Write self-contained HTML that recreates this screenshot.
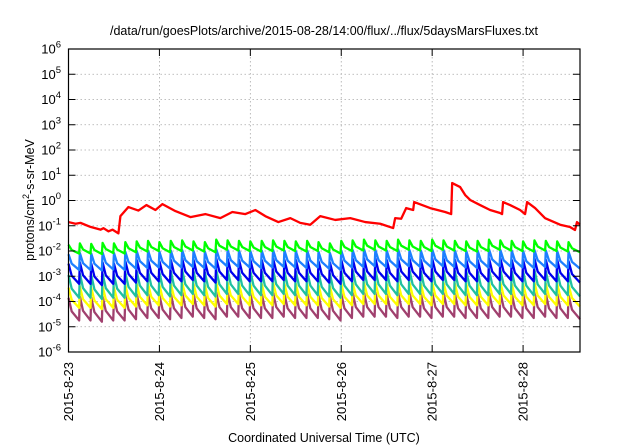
<!DOCTYPE html>
<html><head><meta charset="utf-8"><style>
body{margin:0;background:#fff}
svg{display:block;font-family:"Liberation Sans",sans-serif}
</style></head><body>
<svg id="c" width="640" height="448" viewBox="0 0 640 448">
<text x="324" y="35" font-size="12.5" text-anchor="middle">/data/run/goesPlots/archive/2015-08-28/14:00/flux/../flux/5daysMarsFluxes.txt</text>
<text x="324" y="442" font-size="12.5" text-anchor="middle">Coordinated Universal Time (UTC)</text>
<text transform="translate(34,200) rotate(-90)" font-size="12.5" text-anchor="middle">protons/cm<tspan dy="-5" font-size="9">2</tspan><tspan dy="5">-s-sr-MeV</tspan></text>
<g id="grid"></g><g id="series"></g><g id="axes"></g>
</svg>
<script>
const yTickExps=[-6,-5,-4,-3,-2,-1,0,1,2,3,4,5,6];
const xTickLabels=["2015-8-23","2015-8-24","2015-8-25","2015-8-26","2015-8-27","2015-8-28"];
const xTickDays=[0,1,2,3,4,5];
const redDays=[0,0.077,0.132,0.242,0.352,0.385,0.44,0.484,0.549,0.571,0.659,0.769,0.857,0.956,1.033,1.176,1.341,1.505,1.67,1.802,1.945,2.055,2.165,2.308,2.44,2.549,2.659,2.769,2.934,3.099,3.264,3.429,3.571,3.593,3.659,3.714,3.791,3.802,3.978,4.143,4.209,4.22,4.308,4.363,4.418,4.527,4.637,4.747,4.769,4.78,4.857,4.967,5.022,5.044,5.132,5.242,5.407,5.516,5.571,5.593,5.626];
const redFlux=[0.14,0.12,0.13,0.09,0.07,0.08,0.06,0.07,0.05,0.24,0.55,0.4,0.66,0.42,0.72,0.38,0.22,0.29,0.2,0.35,0.29,0.42,0.24,0.14,0.2,0.13,0.11,0.24,0.17,0.2,0.14,0.12,0.081,0.2,0.19,0.5,0.42,0.87,0.5,0.35,0.29,4.9,3.4,1.65,1.05,0.66,0.42,0.32,0.29,0.87,0.66,0.42,0.29,0.87,0.5,0.2,0.11,0.089,0.068,0.14,0.11];
const cycleDays=[0,0.125,0.25,0.375,0.5,0.625,0.75,0.875,1,1.125,1.25,1.375,1.5,1.625,1.75,1.875,2,2.125,2.25,2.375,2.5,2.625,2.75,2.875,3,3.125,3.25,3.375,3.5,3.625,3.75,3.875,4,4.125,4.25,4.375,4.5,4.625,4.75,4.875,5,5.125,5.25,5.375,5.5];
const greenPeak=[-1.75,-1.7,-1.72,-1.68,-1.7,-1.65,-1.62,-1.6,-1.65,-1.6,-1.58,-1.62,-1.65,-1.55,-1.58,-1.6,-1.62,-1.6,-1.58,-1.6,-1.62,-1.6,-1.65,-1.7,-1.6,-1.58,-1.55,-1.58,-1.6,-1.55,-1.58,-1.6,-1.55,-1.58,-1.6,-1.62,-1.6,-1.55,-1.58,-1.6,-1.62,-1.58,-1.6,-1.62,-1.65];
const greenTrough=[-2.1,-2.1,-2.12,-2.08,-2.1,-2.05,-2.02,-2.0,-2.05,-2.0,-1.98,-2.02,-2.05,-1.95,-1.98,-2.0,-2.02,-2.0,-1.98,-2.0,-2.02,-2.0,-2.05,-2.1,-2.0,-1.98,-1.95,-1.98,-2.0,-1.95,-1.98,-2.0,-1.95,-1.98,-2.0,-2.02,-2.0,-1.95,-1.98,-2.0,-2.02,-1.98,-2.0,-2.02,-2.05];
const lblueOffP=-0.38, lblueOffT=-0.65;
const bluePeak=[-2.5,-2.45,-2.5,-2.45,-2.5,-2.4,-2.35,-2.35,-2.4,-2.35,-2.3,-2.35,-2.4,-2.3,-2.3,-2.35,-2.35,-2.35,-2.3,-2.35,-2.35,-2.35,-2.4,-2.45,-2.35,-2.3,-2.3,-2.3,-2.35,-2.3,-2.3,-2.35,-2.3,-2.3,-2.35,-2.35,-2.35,-2.3,-2.3,-2.35,-2.35,-2.3,-2.35,-2.35,-2.4];
const blueTrough=[-3.3,-3.3,-3.35,-3.3,-3.3,-3.25,-3.2,-3.2,-3.25,-3.2,-3.15,-3.2,-3.25,-3.15,-3.15,-3.2,-3.2,-3.2,-3.15,-3.2,-3.2,-3.2,-3.25,-3.3,-3.2,-3.15,-3.15,-3.15,-3.2,-3.15,-3.15,-3.2,-3.15,-3.15,-3.2,-3.2,-3.2,-3.15,-3.15,-3.2,-3.2,-3.15,-3.2,-3.2,-3.25];
const tealOffP=-0.45, tealOffT=-0.55, yellowOffP=-0.95, yellowOffT=-0.95, purpleOffP=-1.35, purpleOffT=-1.45;
const X0=68.5,X1=580,Y0=352,Y1=49,DAYMAX=5.626;
const xs=d=>X0+d*(X1-X0)/DAYMAX;
const ys=e=>Y0-(e+6)*(Y0-Y1)/12;
const NS="http://www.w3.org/2000/svg";
function mk(tag,parent){const el=document.createElementNS(NS,tag);document.getElementById(parent).appendChild(el);return el;}
yTickExps.forEach(e=>{
  const y=ys(e);
  if(e>-6&&e<6){const g=mk('line','grid');g.setAttribute('x1',X0);g.setAttribute('x2',X1);g.setAttribute('y1',y);g.setAttribute('y2',y);g.setAttribute('stroke','#aaa');g.setAttribute('stroke-width','0.8');g.setAttribute('stroke-dasharray','1.5,2.5');
  
  }
  [[X0,X0+7],[X1,X1-7]].forEach(p=>{const t=mk('line','axes');t.setAttribute('x1',p[0]);t.setAttribute('x2',p[1]);t.setAttribute('y1',y);t.setAttribute('y2',y);t.setAttribute('stroke','#000');
  
  });
  const tx=mk('text','axes');tx.setAttribute('x',61);tx.setAttribute('y',y+4.5);tx.setAttribute('text-anchor','end');tx.setAttribute('font-size','13');
  tx.innerHTML='10<tspan dy="-6" font-size="9.5">'+e+'</tspan>';
  
  
});
xTickDays.forEach((d,i)=>{
  const x=xs(d);
  if(d>0){const g=mk('line','grid');g.setAttribute('x1',x);g.setAttribute('x2',x);g.setAttribute('y1',Y1);g.setAttribute('y2',Y0);g.setAttribute('stroke','#aaa');g.setAttribute('stroke-width','0.8');g.setAttribute('stroke-dasharray','1.5,2.5');
  
  }
  [[Y0,Y0-7],[Y1,Y1+7]].forEach(p=>{const t=mk('line','axes');t.setAttribute('x1',x);t.setAttribute('x2',x);t.setAttribute('y1',p[0]);t.setAttribute('y2',p[1]);t.setAttribute('stroke','#000');
  
  });
  const tx=mk('text','axes');tx.setAttribute('transform','translate('+(x+4.5)+',362) rotate(-90)');tx.setAttribute('text-anchor','end');tx.setAttribute('font-size','13');tx.textContent=xTickLabels[i];
  
  
});
const fr=mk('rect','axes');fr.setAttribute('x',X0);fr.setAttribute('y',Y1);fr.setAttribute('width',X1-X0);fr.setAttribute('height',Y0-Y1);fr.setAttribute('fill','none');fr.setAttribute('stroke','#000');fr.setAttribute('stroke-width','1.2');


function saw(peaks,troughs,op,ot,color,name){
  const pts=[];
  cycleDays.forEach((d,i)=>{
    const pk=peaks[i]+op, tr=troughs[i]+ot;
    const tEnd=Math.min(i+1<cycleDays.length?cycleDays[i+1]-0.008:DAYMAX,DAYMAX);
    pts.push(xs(d)+','+ys(pk));
    const tm=Math.min(d+(tEnd-d)*0.3,DAYMAX);
    pts.push(xs(tm)+','+ys(pk+(tr-pk)*0.6));
    pts.push(xs(tEnd)+','+ys(tr));
  });
  const p=mk('polyline','series');p.setAttribute('points',pts.join(' '));p.setAttribute('fill','none');p.setAttribute('stroke',color);p.setAttribute('stroke-width','2.3');p.setAttribute('stroke-linejoin','round');
  
  
}
saw(bluePeak,blueTrough,purpleOffP,purpleOffT,'#a0406e','series-purple');
saw(bluePeak,blueTrough,yellowOffP,yellowOffT,'#ffff00','series-yellow');
saw(bluePeak,blueTrough,tealOffP,tealOffT,'#20c0a0','series-teal');
saw(bluePeak,blueTrough,0,0,'#0000ee','series-blue');
saw(greenPeak,greenTrough,lblueOffP,lblueOffT,'#1e80ff','series-lightblue');
saw(greenPeak,greenTrough,0,0,'#00ff00','series-green');
const rp=mk('polyline','series');
rp.setAttribute('points',redDays.map((d,i)=>xs(d)+','+ys(Math.log10(redFlux[i]))).join(' '));
rp.setAttribute('fill','none');rp.setAttribute('stroke','#ff0000');rp.setAttribute('stroke-width','2.3');rp.setAttribute('stroke-linejoin','round');


</script>
</body></html>
